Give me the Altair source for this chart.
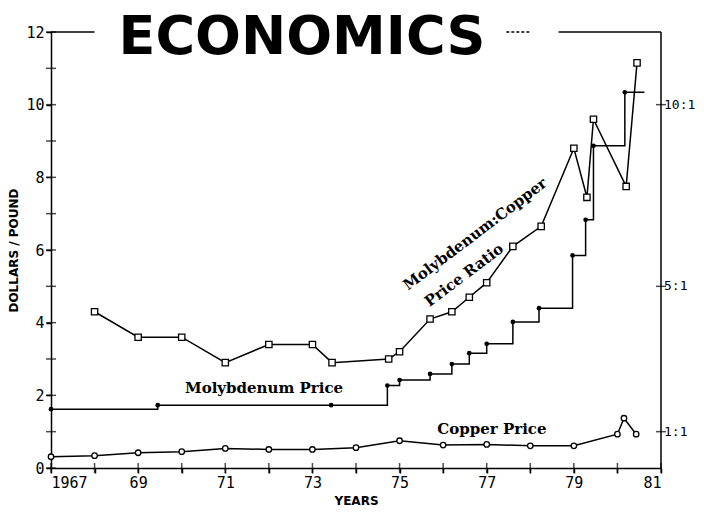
import altair as alt
import pandas as pd

# ---------------- data ----------------
ratio_years = [1968, 1969, 1970, 1971, 1972, 1973, 1973.45, 1974.75, 1975.0, 1975.7,
               1976.2, 1976.6, 1977.0, 1977.6, 1978.25, 1979.0, 1979.3, 1979.45, 1980.2, 1980.45]
ratio_values = [4.3, 3.6, 3.6, 2.9, 3.4, 3.4, 2.9, 3.0, 3.2, 4.1,
                4.3, 4.7, 5.1, 6.1, 6.65, 8.8, 7.45, 9.6, 7.75, 11.15]

moly_years = [1967, 1969.45, 1973.43, 1974.72, 1975.0, 1975.7, 1976.2, 1976.6, 1977.0,
              1977.6, 1978.2, 1978.97, 1979.27, 1979.45, 1980.17]
moly_prices = [1.62, 1.73, 1.73, 2.27, 2.42, 2.59, 2.86, 3.16, 3.42,
               4.02, 4.4, 5.85, 6.83, 8.87, 10.34]
moly_line_end_year = 1980.62

copper_years = [1967, 1968, 1969, 1970, 1971, 1972, 1973, 1974, 1975, 1976, 1977,
                1978, 1979, 1980, 1980.15, 1980.43]
copper_prices = [0.31, 0.34, 0.42, 0.45, 0.54, 0.51, 0.51, 0.56, 0.75, 0.63, 0.65,
                 0.61, 0.61, 0.93, 1.37, 0.93]

x_ticks = list(range(1967, 1982))
y_ticks = list(range(0, 13))
ratio_levels = [1, 5, 10]
ratio_labels = ["1:1", "5:1", "10:1"]

title_text = ["ECONOMICS"]
title_pos = [(1972.76, 11.40)]

labels = ["Molybdenum Price", "Copper Price"]
label_pos = [(1971.89, 2.2), (1977.12, 1.07)]
rot_labels = ["Molybdenum:Copper", "Price Ratio"]
rot_pos = [(1976.73, 6.44), (1976.48, 5.31)]

# top frame segments (broken around the title)
frame_x1 = [1967, 1977.45, 1978.65]
frame_x2 = [1968.0, 1978.0, 1981]
frame_dash = ["solid", "dash", "solid"]

# ---------------- tables ----------------
ratio_df = pd.DataFrame({"year": ratio_years, "v": ratio_values})
moly_df = pd.DataFrame({"year": moly_years, "v": moly_prices})
moly_line_df = pd.DataFrame({"year": moly_years + [moly_line_end_year],
                             "v": moly_prices + [moly_prices[-1]]})
copper_df = pd.DataFrame({"year": copper_years, "v": copper_prices})
xt_df = pd.DataFrame({"year": x_ticks, "v": [0] * len(x_ticks)})
yt_df = pd.DataFrame({"year": [1967] * len(y_ticks), "v": y_ticks})
rt_df = pd.DataFrame({"year": [1981] * len(ratio_levels), "v": ratio_levels, "lab": ratio_labels})
frame_df = pd.DataFrame({"x1": frame_x1, "x2": frame_x2, "v": [12] * 3, "d": frame_dash})
title_df = pd.DataFrame({"t": title_text, "year": [p[0] for p in title_pos], "v": [p[1] for p in title_pos]})
lab_df = pd.DataFrame({"t": labels, "year": [p[0] for p in label_pos], "v": [p[1] for p in label_pos]})
rot_df = pd.DataFrame({"t": rot_labels, "year": [p[0] for p in rot_pos], "v": [p[1] for p in rot_pos]})
right_df = pd.DataFrame({"year": [1981], "v": [0], "v2": [12]})

X = alt.X("year:Q", scale=alt.Scale(domain=[1967, 1981], nice=False, zero=False),
          axis=alt.Axis(values=x_ticks, format="d", title="YEARS", labelOverlap=False,
                        labelExpr="datum.value == 1967 ? '1967' : (datum.value % 2 == 1 ? substring(toString(datum.value), 2, 4) : '')",
                        labelFont="DejaVu Sans Mono", labelFontSize=15, labelColor="black",
                        labelPadding=2, tickSize=5, tickWidth=1.5, tickColor="black",
                        domainColor="black", domainWidth=1.5, grid=False,
                        titleFont="DejaVu Sans", titleFontWeight="bold", titleFontSize=12,
                        titleColor="black", titlePadding=5))
Y = alt.Y("v:Q", scale=alt.Scale(domain=[0, 12], nice=False, zero=True),
          axis=alt.Axis(values=y_ticks, format="d", title="DOLLARS / POUND", labelOverlap=False,
                        labelFont="DejaVu Sans Mono", labelFontSize=15, labelColor="black",
                        labelPadding=2, tickSize=5, tickWidth=1.5, tickColor="black",
                        domainColor="black", domainWidth=1.5, grid=False,
                        titleFont="DejaVu Sans", titleFontWeight="bold", titleFontSize=12,
                        titleColor="black", titlePadding=5))

xs = alt.X("year:Q")
ys = alt.Y("v:Q")

axes_base = alt.Chart(xt_df).mark_tick(orient="vertical", size=10, thickness=1.5, color="black").encode(x=X, y=Y)
y_ticks_layer = alt.Chart(yt_df).mark_tick(orient="horizontal", size=10, thickness=1.5, color="black").encode(x=xs, y=ys)
r_ticks_layer = alt.Chart(rt_df).mark_tick(orient="horizontal", size=10, thickness=1.5, color="black").encode(x=xs, y=ys)
r_labels_layer = alt.Chart(rt_df).mark_text(align="left", baseline="middle", dx=3,
                                            font="DejaVu Sans Mono", fontSize=13, color="black").encode(
    x=xs, y=ys, text="lab:N")
right_line = alt.Chart(right_df).mark_rule(color="black", strokeWidth=1.5).encode(x=xs, y=ys, y2="v2:Q")
frame_solid = alt.Chart(frame_df).mark_rule(color="black", strokeWidth=1.5).encode(
    x=alt.X("x1:Q"), x2="x2:Q", y=ys,
    strokeDash=alt.StrokeDash("d:N", scale=alt.Scale(domain=["solid", "dash"], range=[[1, 0], [3, 2]]), legend=None))

ratio_line = alt.Chart(ratio_df).mark_line(color="black", strokeWidth=1.5).encode(x=xs, y=ys)
ratio_pts = alt.Chart(ratio_df).mark_point(shape="square", size=40, filled=False, fill="white",
                                           fillOpacity=1, color="black", strokeWidth=1.3, opacity=1).encode(x=xs, y=ys)

moly_line = alt.Chart(moly_line_df).mark_line(color="black", strokeWidth=1.5, interpolate="step-after").encode(x=xs, y=ys)
moly_pts = alt.Chart(moly_df).mark_circle(size=22, color="black", opacity=1).encode(x=xs, y=ys)

copper_line = alt.Chart(copper_df).mark_line(color="black", strokeWidth=1.5).encode(x=xs, y=ys)
copper_pts = alt.Chart(copper_df).mark_point(shape="circle", size=30, filled=False, fill="white",
                                             fillOpacity=1, color="black", strokeWidth=1.3, opacity=1).encode(x=xs, y=ys)

title_layer = alt.Chart(title_df).mark_text(font="DejaVu Sans", fontWeight="bold", fontSize=54,
                                            align="center", baseline="alphabetic", color="black").encode(
    x=xs, y=ys, text="t:N")
lab_layer = alt.Chart(lab_df).mark_text(font="DejaVu Serif", fontWeight="bold", fontSize=15,
                                        align="center", baseline="middle", color="black").encode(
    x=xs, y=ys, text="t:N")
rot_layer = alt.Chart(rot_df).mark_text(font="DejaVu Serif", fontWeight="bold", fontSize=15,
                                        align="center", baseline="middle", angle=323, color="black").encode(
    x=xs, y=ys, text="t:N")

chart = alt.layer(
    axes_base, y_ticks_layer, r_ticks_layer, r_labels_layer, right_line, frame_solid,
    ratio_line, moly_line, copper_line, ratio_pts, moly_pts, copper_pts,
    title_layer, lab_layer, rot_layer,
).properties(
    width=610, height=436,
    autosize=alt.AutoSizeParams(type="none"),
    padding={"left": 43, "top": 24, "right": 35, "bottom": 38},
    background="white",
).configure_view(stroke=None)

chart.save("out.html", embed_options={"renderer": "svg", "actions": False})
